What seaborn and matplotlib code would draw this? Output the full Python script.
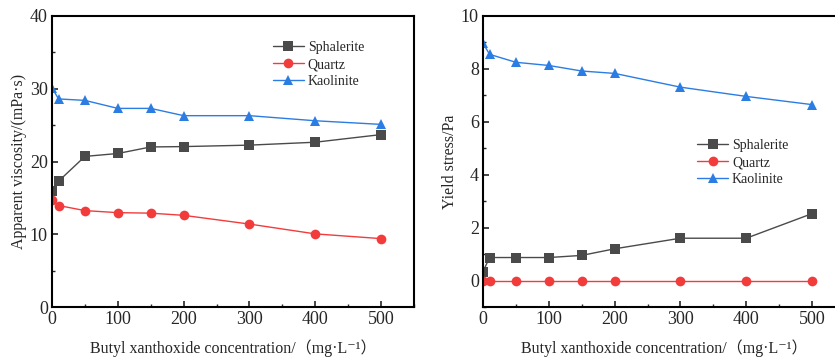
import numpy as np
import pandas as pd
import matplotlib
matplotlib.use("Agg")
import matplotlib.pyplot as plt
import seaborn as sns
from matplotlib.ticker import MultipleLocator

conc = [0, 10, 50, 100, 150, 200, 300, 400, 500]
minerals = ["Sphalerite", "Quartz", "Kaolinite"]

visc_sphalerite = [16.0, 17.3, 20.7, 21.1, 22.0, 22.05, 22.25, 22.65, 23.7]
visc_quartz = [14.7, 13.95, 13.25, 12.97, 12.9, 12.6, 11.4, 10.05, 9.4]
visc_kaolinite = [30.1, 28.6, 28.4, 27.3, 27.3, 26.3, 26.3, 25.6, 25.1]

ys_sphalerite = [0.34, 0.87, 0.87, 0.87, 0.95, 1.2, 1.6, 1.6, 2.53]
ys_quartz = [0, 0, 0, 0, 0, 0, 0, 0, 0]
ys_kaolinite = [8.97, 8.55, 8.25, 8.13, 7.92, 7.83, 7.31, 6.96, 6.65]

colors = {"Sphalerite": "#4a4a4a", "Quartz": "#f23c3c", "Kaolinite": "#2b7de3"}
markers = {"Sphalerite": "s", "Quartz": "o", "Kaolinite": "^"}

def long_df(a, b, c):
    rows = []
    for name, vals in zip(minerals, [a, b, c]):
        for x, y in zip(conc, vals):
            rows.append({"conc": x, "value": y, "mineral": name})
    return pd.DataFrame(rows)

df_v = long_df(visc_sphalerite, visc_quartz, visc_kaolinite)
df_y = long_df(ys_sphalerite, ys_quartz, ys_kaolinite)

sns.set_theme(style="ticks")
plt.rcParams["font.family"] = ["Liberation Serif", "Noto Sans CJK SC", "DejaVu Serif"]
plt.rcParams["xtick.direction"] = "in"
plt.rcParams["ytick.direction"] = "in"

W, H = 835, 362
fig = plt.figure(figsize=(W / 100, H / 100), dpi=100)
ax1 = fig.add_axes([52 / W, 1 - 307 / H, 362 / W, 291 / H])
ax2 = fig.add_axes([483 / W, 1 - 307 / H, 362 / W, 291 / H])

xlabel = "Butyl xanthoxide concentration/（mg·L⁻¹）"

for ax, df, ylabel, ylim, ymaj, ymin, legpos in [
    (ax1, df_v, "Apparent viscosity/(mPa·s)", (0, 40), 10, 5, (0.584, 0.947)),
    (ax2, df_y, "Yield stress/Pa", (-1, 10), 2, 1, (0.565, 0.61)),
]:
    sns.lineplot(data=df, x="conc", y="value", hue="mineral", style="mineral",
                 palette=colors, markers=markers, dashes=False, ax=ax,
                 linewidth=1.0, markersize=7, markeredgewidth=0, legend=True)
    ax.set_xlim(0, 550)
    ax.set_ylim(*ylim)
    ax.xaxis.set_major_locator(MultipleLocator(100))
    ax.xaxis.set_minor_locator(MultipleLocator(50))
    ax.yaxis.set_major_locator(MultipleLocator(ymaj))
    ax.yaxis.set_minor_locator(MultipleLocator(ymin))
    ax.tick_params(which="major", length=4, width=1.2, labelsize=13, pad=3)
    ax.tick_params(which="minor", length=2.5, width=1.0)
    for s in ax.spines.values():
        s.set_linewidth(1.5)
        s.set_color("black")
    ax.set_xlabel(xlabel, fontsize=11.5, labelpad=8)
    ax.set_ylabel(ylabel, fontsize=11.5, labelpad=2)
    leg = ax.legend(loc="upper left", bbox_to_anchor=legpos, frameon=False,
                    fontsize=10, handlelength=2.2, handletextpad=0.3,
                    labelspacing=0.28, borderpad=0.2, title=None)

fig.savefig("out.png", dpi=100)
